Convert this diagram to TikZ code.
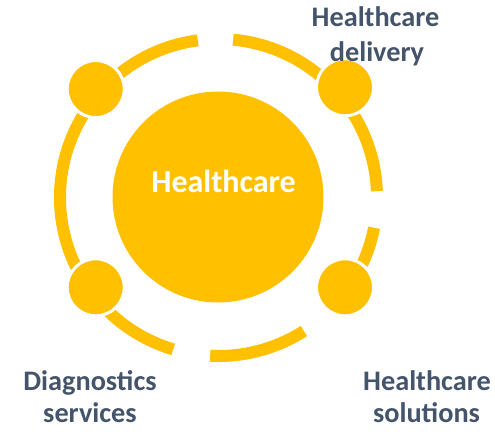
\documentclass[tikz,border=0pt]{standalone}
\usepackage{fontspec}
\setmainfont{Carlito}
\definecolor{hcyellow}{HTML}{FFC000}
\definecolor{hctext}{HTML}{44546A}
\begin{document}
\begin{tikzpicture}[x=1pt,y=1pt,
  ring/.style={draw=hcyellow,line width=12pt},
  dot/.style={circle,fill=hcyellow,draw=white,line width=3pt,minimum size=57pt,inner sep=0pt},
  lbl/.style={font=\fontsize{28.3}{32}\selectfont\bfseries,text=hctext,anchor=base,inner sep=0pt}]
\useasboundingbox (0,-431) rectangle (495,0);
\coordinate (O) at (218.5,-197.5);
% ring arcs
\draw[ring] ([shift={(97.5:158.5)}]O) arc[start angle=97.5,end angle=253.4,radius=158.5];
\draw[ring] ([shift={(-93:158.5)}]O) arc[start angle=-93,end angle=-57.4,radius=158.5];
\draw[ring] ([shift={(-24.9:158.5)}]O) arc[start angle=-24.9,end angle=-11,radius=158.5];
\draw[ring] ([shift={(2.3:158.5)}]O) arc[start angle=2.3,end angle=84.7,radius=158.5];
% central circle
\node[circle,fill=hcyellow,minimum size=211pt,inner sep=0pt] (hub) at (218,-197) {};
\node[font=\fontsize{32}{36}\selectfont\bfseries,text=white,anchor=base,inner sep=0pt] (hubtext) at (223.5,-192) {Healthcare};
% small circles
\node[dot] (tl) at (95.7,-89) {};
\node[dot] (tr) at (345,-87.3) {};
\node[dot] (bl) at (95.7,-287.3) {};
\node[dot] (br) at (345,-287.3) {};
% labels
\node[lbl] (tr1) at (375.5,-27) {Healthcare};
\node[lbl] (tr2) at (377,-61) {delivery};
\node[lbl] (bl1) at (90,-390) {Diagnostics};
\node[lbl] (bl2) at (90,-422) {services};
\node[lbl] (br1) at (427,-390) {Healthcare};
\node[lbl] (br2) at (426.5,-422) {solutions};
\end{tikzpicture}
\end{document}
